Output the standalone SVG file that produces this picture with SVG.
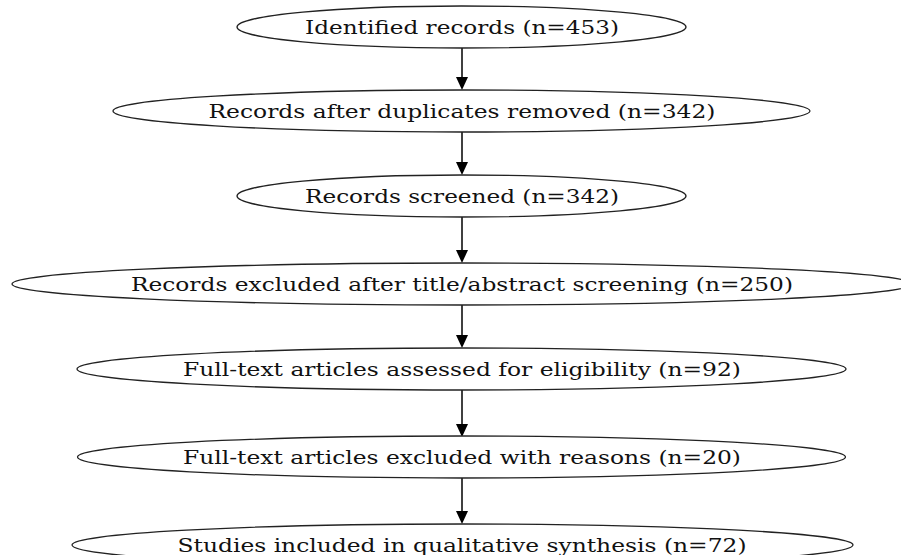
<svg xmlns="http://www.w3.org/2000/svg" width="901" height="555" viewBox="0 0 901 555">
<style>
.n ellipse{fill:#fff;stroke:#222;stroke-width:1.3}
.n text{font-family:"DejaVu Serif",serif;font-size:18px;fill:#111;text-anchor:middle;dominant-baseline:central}
.e line{stroke:#000;stroke-width:1.5}
.e polygon{fill:#000}
</style>
<rect width="901" height="555" fill="#fff"/>
<g class="e" id="connectors">
<line x1="462" y1="48" x2="462" y2="78"/><polygon points="456,77 468,77 462,90"/>
<line x1="462" y1="132" x2="462" y2="163"/><polygon points="456,162 468,162 462,175"/>
<line x1="462" y1="217" x2="462" y2="251"/><polygon points="456,250 468,250 462,263"/>
<line x1="462" y1="305" x2="462" y2="336"/><polygon points="456,335 468,335 462,348"/>
<line x1="462" y1="390" x2="462" y2="425"/><polygon points="456,424 468,424 462,437"/>
<line x1="462" y1="478" x2="462" y2="512"/><polygon points="456,511 468,511 462,524"/>
</g>
<g class="n" id="n1"><ellipse cx="461.5" cy="27" rx="224.5" ry="21"/><text x="462" y="27" textLength="314" lengthAdjust="spacingAndGlyphs">Identified records (n=453)</text></g>
<g class="n" id="n2"><ellipse cx="461.5" cy="111" rx="348.5" ry="21"/><text x="462" y="111" textLength="507" lengthAdjust="spacingAndGlyphs">Records after duplicates removed (n=342)</text></g>
<g class="n" id="n3"><ellipse cx="461.5" cy="196" rx="224.5" ry="21"/><text x="462" y="196" textLength="314" lengthAdjust="spacingAndGlyphs">Records screened (n=342)</text></g>
<g class="n" id="n4"><ellipse cx="462" cy="284" rx="450" ry="21"/><text x="462" y="284" textLength="662" lengthAdjust="spacingAndGlyphs">Records excluded after title/abstract screening (n=250)</text></g>
<g class="n" id="n5"><ellipse cx="461.5" cy="369" rx="384.5" ry="21"/><text x="462" y="369" textLength="558" lengthAdjust="spacingAndGlyphs">Full-text articles assessed for eligibility (n=92)</text></g>
<g class="n" id="n6"><ellipse cx="461.5" cy="457" rx="384" ry="21"/><text x="462" y="457" textLength="558" lengthAdjust="spacingAndGlyphs">Full-text articles excluded with reasons (n=20)</text></g>
<g class="n" id="n7"><ellipse cx="462.5" cy="545" rx="390.5" ry="21"/><text x="462" y="545" textLength="569" lengthAdjust="spacingAndGlyphs">Studies included in qualitative synthesis (n=72)</text></g>
</svg>
